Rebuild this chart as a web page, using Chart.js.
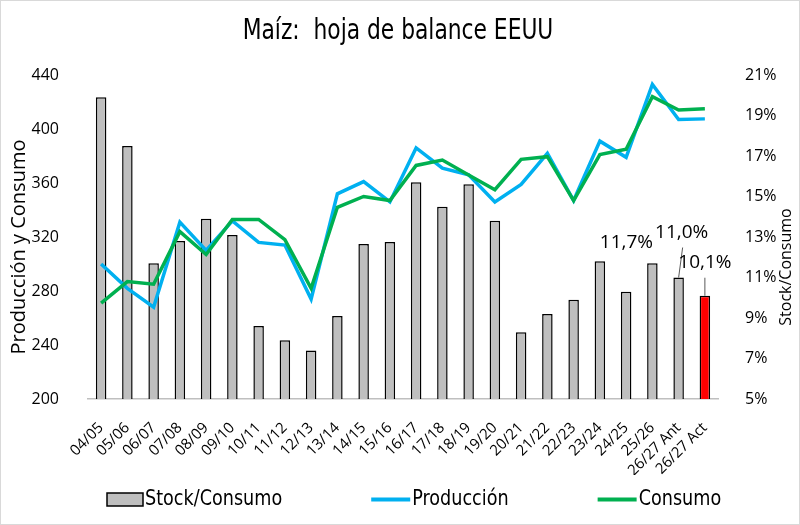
<!DOCTYPE html>
<html>
<head>
<meta charset="utf-8">
<script src="https://cdn.jsdelivr.net/npm/chart.js@4.4.1/dist/chart.umd.min.js"></script>
<style>
  html, body { margin: 0; padding: 0; background: #fff; }
  #wrap { width: 800px; height: 525px; }
</style>
</head>
<body>
<div id="wrap"><canvas id="balanceChart" width="800" height="525"></canvas></div>
<script>
// campañas (eje X)
const campaigns = ['04/05', '05/06', '06/07', '07/08', '08/09', '09/10', '10/11', '11/12',
  '12/13', '13/14', '14/15', '15/16', '16/17', '17/18', '18/19', '19/20', '20/21', '21/22',
  '22/23', '23/24', '24/25', '25/26', '26/27 Ant', '26/27 Act'];

// ratio stock/consumo en % (eje derecho)
const stockToUse = [19.9, 17.5, 11.7, 12.8, 13.9, 13.1, 8.6, 7.9, 7.4, 9.1, 12.65, 12.75,
  15.7, 14.5, 15.6, 13.8, 8.3, 9.2, 9.9, 11.8, 10.3, 11.7, 11.0, 10.1];

// producción y consumo en Mt (eje izquierdo)
const production = [300, 282, 268, 331, 310, 332, 316, 314, 274, 352, 361, 346,
  386, 371, 366, 346, 359, 382, 347, 391, 379, 433, 407, 407.5];
const consumption = [271, 287, 285, 324, 307, 333, 333, 318, 282, 342, 350, 347,
  373, 377, 366, 355, 377.5, 379.5, 347, 381, 385, 424, 414, 415];

// etiquetas de los últimos ratios
const calloutIdx = [21, 22, 23];
const calloutText = ['11,7%', '11,0%', '10,1%'];

const chartTitle = 'Maíz:  hoja de balance EEUU';
const leftTitle = 'Producción y Consumo';
const rightTitle = 'Stock/Consumo';

const NARROW = '"DejaVu Sans Condensed", "Liberation Sans", sans-serif';
const SANS = '"Open Sans", "Noto Sans", sans-serif';

// texto estrechado horizontalmente (la fuente original es condensada)
function drawNarrow(ctx, text, x, y, sx, align) {
  ctx.save();
  ctx.translate(x, y);
  ctx.scale(sx, 1);
  ctx.textAlign = align;
  ctx.fillText(text, 0, 0);
  ctx.restore();
}

// texto vertical (títulos de ejes)
function drawVertical(ctx, text, x, y) {
  ctx.save();
  ctx.translate(x, y);
  ctx.rotate(-Math.PI / 2);
  ctx.textAlign = 'center';
  ctx.fillText(text, 0, 0);
  ctx.restore();
}

// fondo blanco, marco gris y títulos
const framePlugin = {
  id: 'frame',
  beforeDraw(chart) {
    const ctx = chart.ctx;
    ctx.save();
    ctx.fillStyle = '#fff';
    ctx.fillRect(0, 0, chart.width, chart.height);
    ctx.restore();
  },
  afterDraw(chart) {
    const ctx = chart.ctx;
    ctx.save();
    ctx.strokeStyle = '#d9d9d9';
    ctx.lineWidth = 1;
    ctx.strokeRect(0.5, 0.5, chart.width - 1, chart.height - 1);

    ctx.fillStyle = '#000';
    ctx.textBaseline = 'middle';
    ctx.font = '28px ' + NARROW;
    drawNarrow(ctx, chartTitle, 398, 32, 0.865, 'center');

    ctx.font = '20px ' + SANS;
    drawVertical(ctx, leftTitle, 19, 247);
    ctx.font = '16px ' + SANS;
    drawVertical(ctx, rightTitle, 786, 267);
    ctx.restore();
  }
};

// etiquetas con línea guía sobre las barras
const calloutPlugin = {
  id: 'callouts',
  afterDatasetsDraw(chart) {
    const ctx = chart.ctx;
    const meta = chart.getDatasetMeta(0);
    const offsets = [
      { dx: -26, dy: -21, lead: false },
      { dx: 3, dy: -45, lead: true },
      { dx: 0, dy: -33, lead: true }
    ];
    ctx.save();
    ctx.font = '19px ' + SANS;
    ctx.fillStyle = '#000';
    ctx.textAlign = 'center';
    ctx.textBaseline = 'middle';
    calloutIdx.forEach((idx, i) => {
      const bar = meta.data[idx];
      const o = offsets[i];
      const x = bar.x + o.dx;
      const y = bar.y + o.dy;
      ctx.fillText(calloutText[i], x, y);
      if (o.lead) {
        ctx.strokeStyle = '#595959';
        ctx.lineWidth = 1;
        ctx.beginPath();
        ctx.moveTo(x + (o.dx > 0 ? 1 : 0), y + 15);
        ctx.lineTo(bar.x, bar.y);
        ctx.stroke();
      }
    });
    ctx.restore();
  }
};

// leyenda inferior
const legendPlugin = {
  id: 'bottomLegend',
  afterDraw(chart) {
    const ctx = chart.ctx;
    const y = 499.5;
    const sx = 0.89;
    let x = 107;
    ctx.save();
    ctx.font = '22px ' + NARROW;
    ctx.textBaseline = 'middle';
    chart.data.datasets.forEach(ds => {
      if (ds.type === 'bar') {
        ctx.fillStyle = '#bfbfbf';
        ctx.fillRect(x, y - 6.5, 36, 13);
        ctx.strokeStyle = '#000';
        ctx.lineWidth = 1.5;
        ctx.strokeRect(x, y - 6.5, 36, 13);
        x += 38;
      } else {
        ctx.strokeStyle = ds.borderColor;
        ctx.lineWidth = 4;
        ctx.beginPath();
        ctx.moveTo(x, y);
        ctx.lineTo(x + 39, y);
        ctx.stroke();
        x += 41;
      }
      ctx.fillStyle = '#000';
      drawNarrow(ctx, ds.label, x, y, sx, 'left');
      x += ctx.measureText(ds.label).width * sx + 89;
    });
    ctx.restore();
  }
};

new Chart(document.getElementById('balanceChart'), {
  data: {
    labels: campaigns,
    datasets: [
      {
        type: 'bar',
        label: 'Stock/Consumo',
        data: stockToUse,
        yAxisID: 'yRatio',
        backgroundColor: stockToUse.map((v, i) => i === stockToUse.length - 1 ? '#ff0000' : '#bfbfbf'),
        borderColor: '#000',
        borderWidth: 1.5,
        barPercentage: 0.4,
        categoryPercentage: 1,
        order: 3
      },
      {
        type: 'line',
        label: 'Producción',
        data: production,
        yAxisID: 'yMt',
        borderColor: '#00b0f0',
        borderWidth: 3.5,
        pointRadius: 0,
        tension: 0,
        order: 2
      },
      {
        type: 'line',
        label: 'Consumo',
        data: consumption,
        yAxisID: 'yMt',
        borderColor: '#00b050',
        borderWidth: 3.5,
        pointRadius: 0,
        tension: 0,
        order: 1
      }
    ]
  },
  options: {
    responsive: false,
    animation: false,
    layout: { padding: { left: 8, right: 4, top: 75, bottom: 50 } },
    plugins: {
      legend: { display: false },
      tooltip: { enabled: false },
      title: { display: false }
    },
    scales: {
      x: {
        grid: { display: false },
        border: { display: true, color: '#bfbfbf', width: 1.5 },
        ticks: {
          autoSkip: false,
          minRotation: 45,
          maxRotation: 45,
          padding: 12,
          color: '#000',
          font: { family: SANS, size: 15 }
        },
        afterFit: s => { s.height = 76; }
      },
      yMt: {
        position: 'left',
        min: 200,
        max: 440,
        grid: { display: false },
        border: { display: false },
        ticks: { stepSize: 40, padding: 21, color: '#000', font: { family: SANS, size: 16 } },
        afterFit: s => { s.width = 80; }
      },
      yRatio: {
        position: 'right',
        min: 5,
        max: 21,
        grid: { display: false },
        border: { display: false },
        ticks: {
          stepSize: 2,
          padding: 19,
          color: '#000',
          font: { family: SANS, size: 16 },
          callback: v => v + '%'
        },
        afterFit: s => { s.width = 78; }
      }
    }
  },
  plugins: [framePlugin, calloutPlugin, legendPlugin]
});
</script>
</body>
</html>
